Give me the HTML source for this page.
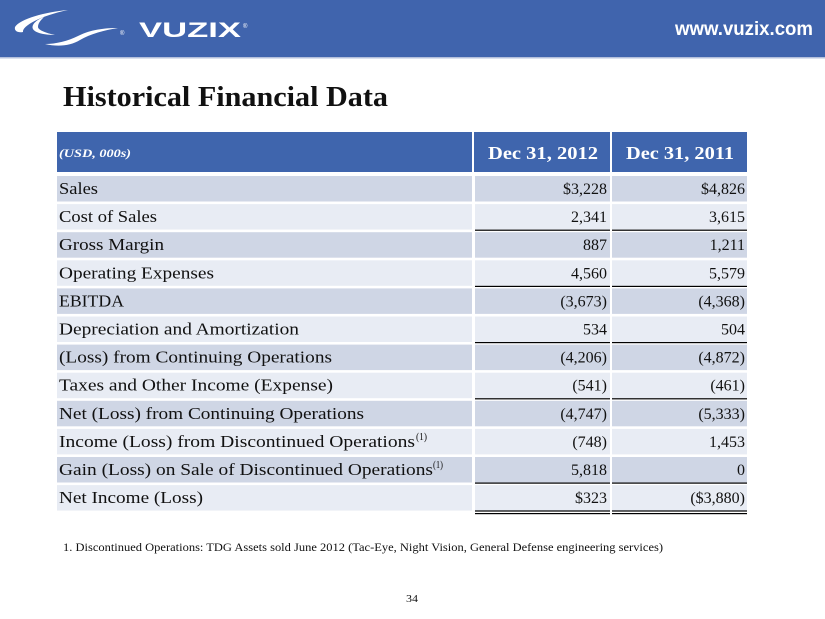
<!DOCTYPE html>
<html><head><meta charset="utf-8"><style>
html,body{margin:0;padding:0;background:#fff;}
svg{display:block;}
</style></head><body>
<svg width="825" height="619" viewBox="0 0 825 619" xmlns="http://www.w3.org/2000/svg">
<rect x="0" y="0" width="825" height="619" fill="#ffffff"/>
<!-- header bar -->
<rect x="0" y="0" width="825" height="57" fill="#4064ad"/>
<rect x="0" y="57" width="825" height="1.5" fill="#b4c0dc"/>
<!-- swoosh logo -->
<g fill="#ffffff">
<path d="M68,10 C45,12 20,19 15,27 C14,31 18,33 23,32 C22,26 40,16 68,10 Z"/>
<path d="M44,17 C36,20 31,25 33,29 C35,33 45,35 55,35 C46,33 38,30 38,27 C38,23 41,20 44,17 Z"/>
<path d="M45,44 C58,47 70,46 80,40 C90,34 105,30 118,28 C100,28 88,31 78,36 C68,41 56,44 45,44 Z"/>
</g>
<text x="120" y="35" font-family="Liberation Sans, sans-serif" font-size="6" fill="#fff">®</text>
<text x="139" y="37" font-family="Liberation Sans, sans-serif" font-size="21" font-weight="bold" fill="#ffffff" textLength="102" lengthAdjust="spacingAndGlyphs">VUZIX</text>
<text x="243" y="28" font-family="Liberation Sans, sans-serif" font-size="6" fill="#fff">®</text>
<text x="675" y="35" font-family="Liberation Sans, sans-serif" font-size="19" font-weight="bold" fill="#ffffff" textLength="138" lengthAdjust="spacingAndGlyphs">www.vuzix.com</text>

<!-- title -->
<text x="63" y="106" font-family="Liberation Serif, serif" font-size="28" font-weight="bold" fill="#111" textLength="325" lengthAdjust="spacingAndGlyphs">Historical Financial Data</text>

<!-- table header -->
<rect x="57" y="132" width="415" height="40" fill="#3f65ad"/>
<rect x="474" y="132" width="136" height="40" fill="#3f65ad"/>
<rect x="612" y="132" width="135" height="40" fill="#3f65ad"/>
<text x="59" y="157" font-family="Liberation Serif, serif" font-size="11.5" font-style="italic" font-weight="bold" fill="#fff" textLength="72" lengthAdjust="spacingAndGlyphs">(USD, 000s)</text>
<text x="488" y="159" font-family="Liberation Serif, serif" font-size="18" font-weight="bold" fill="#fff" textLength="110" lengthAdjust="spacingAndGlyphs">Dec 31, 2012</text>
<text x="626" y="159" font-family="Liberation Serif, serif" font-size="18" font-weight="bold" fill="#fff" textLength="108" lengthAdjust="spacingAndGlyphs">Dec 31, 2011</text>

<!-- rows -->
<g font-family="Liberation Serif, serif" fill="#111">
<!-- row 0 -->
<rect x="57" y="176" width="415" height="25.5" fill="#cfd6e5"/><rect x="475" y="176" width="135" height="25.5" fill="#cfd6e5"/><rect x="612" y="176" width="135" height="25.5" fill="#cfd6e5"/>
<text x="59" y="194" font-size="17" textLength="39" lengthAdjust="spacingAndGlyphs">Sales</text>
<text x="607" y="194" font-size="16" text-anchor="end">$3,228</text><text x="745" y="194" font-size="16" text-anchor="end">$4,826</text>
<!-- row 1 -->
<rect x="57" y="204.1" width="415" height="25.5" fill="#e8ecf4"/><rect x="475" y="204.1" width="135" height="25.5" fill="#e8ecf4"/><rect x="612" y="204.1" width="135" height="25.5" fill="#e8ecf4"/>
<text x="59" y="222.1" font-size="17" textLength="98" lengthAdjust="spacingAndGlyphs">Cost of Sales</text>
<text x="607" y="222.1" font-size="16" text-anchor="end">2,341</text><text x="745" y="222.1" font-size="16" text-anchor="end">3,615</text>
<rect x="475" y="229.6" width="135" height="1.2" fill="#000"/><rect x="612" y="229.6" width="135" height="1.2" fill="#000"/>
<!-- row 2 -->
<rect x="57" y="232.2" width="415" height="25.5" fill="#cfd6e5"/><rect x="475" y="232.2" width="135" height="25.5" fill="#cfd6e5"/><rect x="612" y="232.2" width="135" height="25.5" fill="#cfd6e5"/>
<text x="59" y="250.2" font-size="17" textLength="105" lengthAdjust="spacingAndGlyphs">Gross Margin</text>
<text x="607" y="250.2" font-size="16" text-anchor="end">887</text><text x="745" y="250.2" font-size="16" text-anchor="end">1,211</text>
<!-- row 3 -->
<rect x="57" y="260.3" width="415" height="25.5" fill="#e8ecf4"/><rect x="475" y="260.3" width="135" height="25.5" fill="#e8ecf4"/><rect x="612" y="260.3" width="135" height="25.5" fill="#e8ecf4"/>
<text x="59" y="278.3" font-size="17" textLength="155" lengthAdjust="spacingAndGlyphs">Operating Expenses</text>
<text x="607" y="278.3" font-size="16" text-anchor="end">4,560</text><text x="745" y="278.3" font-size="16" text-anchor="end">5,579</text>
<rect x="475" y="285.8" width="135" height="1.2" fill="#000"/><rect x="612" y="285.8" width="135" height="1.2" fill="#000"/>
<!-- row 4 -->
<rect x="57" y="288.4" width="415" height="25.5" fill="#cfd6e5"/><rect x="475" y="288.4" width="135" height="25.5" fill="#cfd6e5"/><rect x="612" y="288.4" width="135" height="25.5" fill="#cfd6e5"/>
<text x="59" y="306.4" font-size="17" textLength="65" lengthAdjust="spacingAndGlyphs">EBITDA</text>
<text x="607" y="306.4" font-size="16" text-anchor="end">(3,673)</text><text x="745" y="306.4" font-size="16" text-anchor="end">(4,368)</text>
<!-- row 5 -->
<rect x="57" y="316.5" width="415" height="25.5" fill="#e8ecf4"/><rect x="475" y="316.5" width="135" height="25.5" fill="#e8ecf4"/><rect x="612" y="316.5" width="135" height="25.5" fill="#e8ecf4"/>
<text x="59" y="334.5" font-size="17" textLength="240" lengthAdjust="spacingAndGlyphs">Depreciation and Amortization</text>
<text x="607" y="334.5" font-size="16" text-anchor="end">534</text><text x="745" y="334.5" font-size="16" text-anchor="end">504</text>
<rect x="475" y="342" width="135" height="1.2" fill="#000"/><rect x="612" y="342" width="135" height="1.2" fill="#000"/>
<!-- row 6 -->
<rect x="57" y="344.6" width="415" height="25.5" fill="#cfd6e5"/><rect x="475" y="344.6" width="135" height="25.5" fill="#cfd6e5"/><rect x="612" y="344.6" width="135" height="25.5" fill="#cfd6e5"/>
<text x="59" y="362.6" font-size="17" textLength="273" lengthAdjust="spacingAndGlyphs">(Loss) from Continuing Operations</text>
<text x="607" y="362.6" font-size="16" text-anchor="end">(4,206)</text><text x="745" y="362.6" font-size="16" text-anchor="end">(4,872)</text>
<!-- row 7 -->
<rect x="57" y="372.7" width="415" height="25.5" fill="#e8ecf4"/><rect x="475" y="372.7" width="135" height="25.5" fill="#e8ecf4"/><rect x="612" y="372.7" width="135" height="25.5" fill="#e8ecf4"/>
<text x="59" y="390.7" font-size="17" textLength="274" lengthAdjust="spacingAndGlyphs">Taxes and Other Income (Expense)</text>
<text x="607" y="390.7" font-size="16" text-anchor="end">(541)</text><text x="745" y="390.7" font-size="16" text-anchor="end">(461)</text>
<rect x="475" y="398.2" width="135" height="1.2" fill="#000"/><rect x="612" y="398.2" width="135" height="1.2" fill="#000"/>
<!-- row 8 -->
<rect x="57" y="400.8" width="415" height="25.5" fill="#cfd6e5"/><rect x="475" y="400.8" width="135" height="25.5" fill="#cfd6e5"/><rect x="612" y="400.8" width="135" height="25.5" fill="#cfd6e5"/>
<text x="59" y="418.8" font-size="17" textLength="305" lengthAdjust="spacingAndGlyphs">Net (Loss) from Continuing Operations</text>
<text x="607" y="418.8" font-size="16" text-anchor="end">(4,747)</text><text x="745" y="418.8" font-size="16" text-anchor="end">(5,333)</text>
<!-- row 9 -->
<rect x="57" y="428.9" width="415" height="25.5" fill="#e8ecf4"/><rect x="475" y="428.9" width="135" height="25.5" fill="#e8ecf4"/><rect x="612" y="428.9" width="135" height="25.5" fill="#e8ecf4"/>
<text x="59" y="446.9" font-size="17" textLength="356" lengthAdjust="spacingAndGlyphs">Income (Loss) from Discontinued Operations</text>
<text x="416" y="440" font-size="10.5" textLength="11" lengthAdjust="spacingAndGlyphs">(1)</text>
<text x="607" y="446.9" font-size="16" text-anchor="end">(748)</text><text x="745" y="446.9" font-size="16" text-anchor="end">1,453</text>
<!-- row 10 -->
<rect x="57" y="457" width="415" height="25.5" fill="#cfd6e5"/><rect x="475" y="457" width="135" height="25.5" fill="#cfd6e5"/><rect x="612" y="457" width="135" height="25.5" fill="#cfd6e5"/>
<text x="59" y="475" font-size="17" textLength="374" lengthAdjust="spacingAndGlyphs">Gain (Loss) on Sale of Discontinued Operations</text>
<text x="433" y="468" font-size="10.5" textLength="10" lengthAdjust="spacingAndGlyphs">(1)</text>
<text x="607" y="475" font-size="16" text-anchor="end">5,818</text><text x="745" y="475" font-size="16" text-anchor="end">0</text>
<rect x="475" y="482.5" width="135" height="1.2" fill="#000"/><rect x="612" y="482.5" width="135" height="1.2" fill="#000"/>
<!-- row 11 -->
<rect x="57" y="485.1" width="415" height="25.5" fill="#e8ecf4"/><rect x="475" y="485.1" width="135" height="25.5" fill="#e8ecf4"/><rect x="612" y="485.1" width="135" height="25.5" fill="#e8ecf4"/>
<text x="59" y="503.1" font-size="17" textLength="144" lengthAdjust="spacingAndGlyphs">Net Income (Loss)</text>
<text x="607" y="503.1" font-size="16" text-anchor="end">$323</text><text x="745" y="503.1" font-size="16" text-anchor="end">($3,880)</text>
<rect x="475" y="510.4" width="135" height="1.2" fill="#000"/><rect x="612" y="510.4" width="135" height="1.2" fill="#000"/>
<rect x="475" y="513" width="135" height="1.2" fill="#000"/><rect x="612" y="513" width="135" height="1.2" fill="#000"/>
</g>

<!-- footnote -->
<text x="63" y="551" font-family="Liberation Serif, serif" font-size="11.5" fill="#111" textLength="600" lengthAdjust="spacingAndGlyphs">1.  Discontinued Operations: TDG Assets sold June 2012 (Tac-Eye, Night Vision, General Defense engineering services)</text>
<text x="406" y="602" font-family="Liberation Serif, serif" font-size="11" fill="#111" textLength="12" lengthAdjust="spacingAndGlyphs">34</text>
</svg>
</body></html>
